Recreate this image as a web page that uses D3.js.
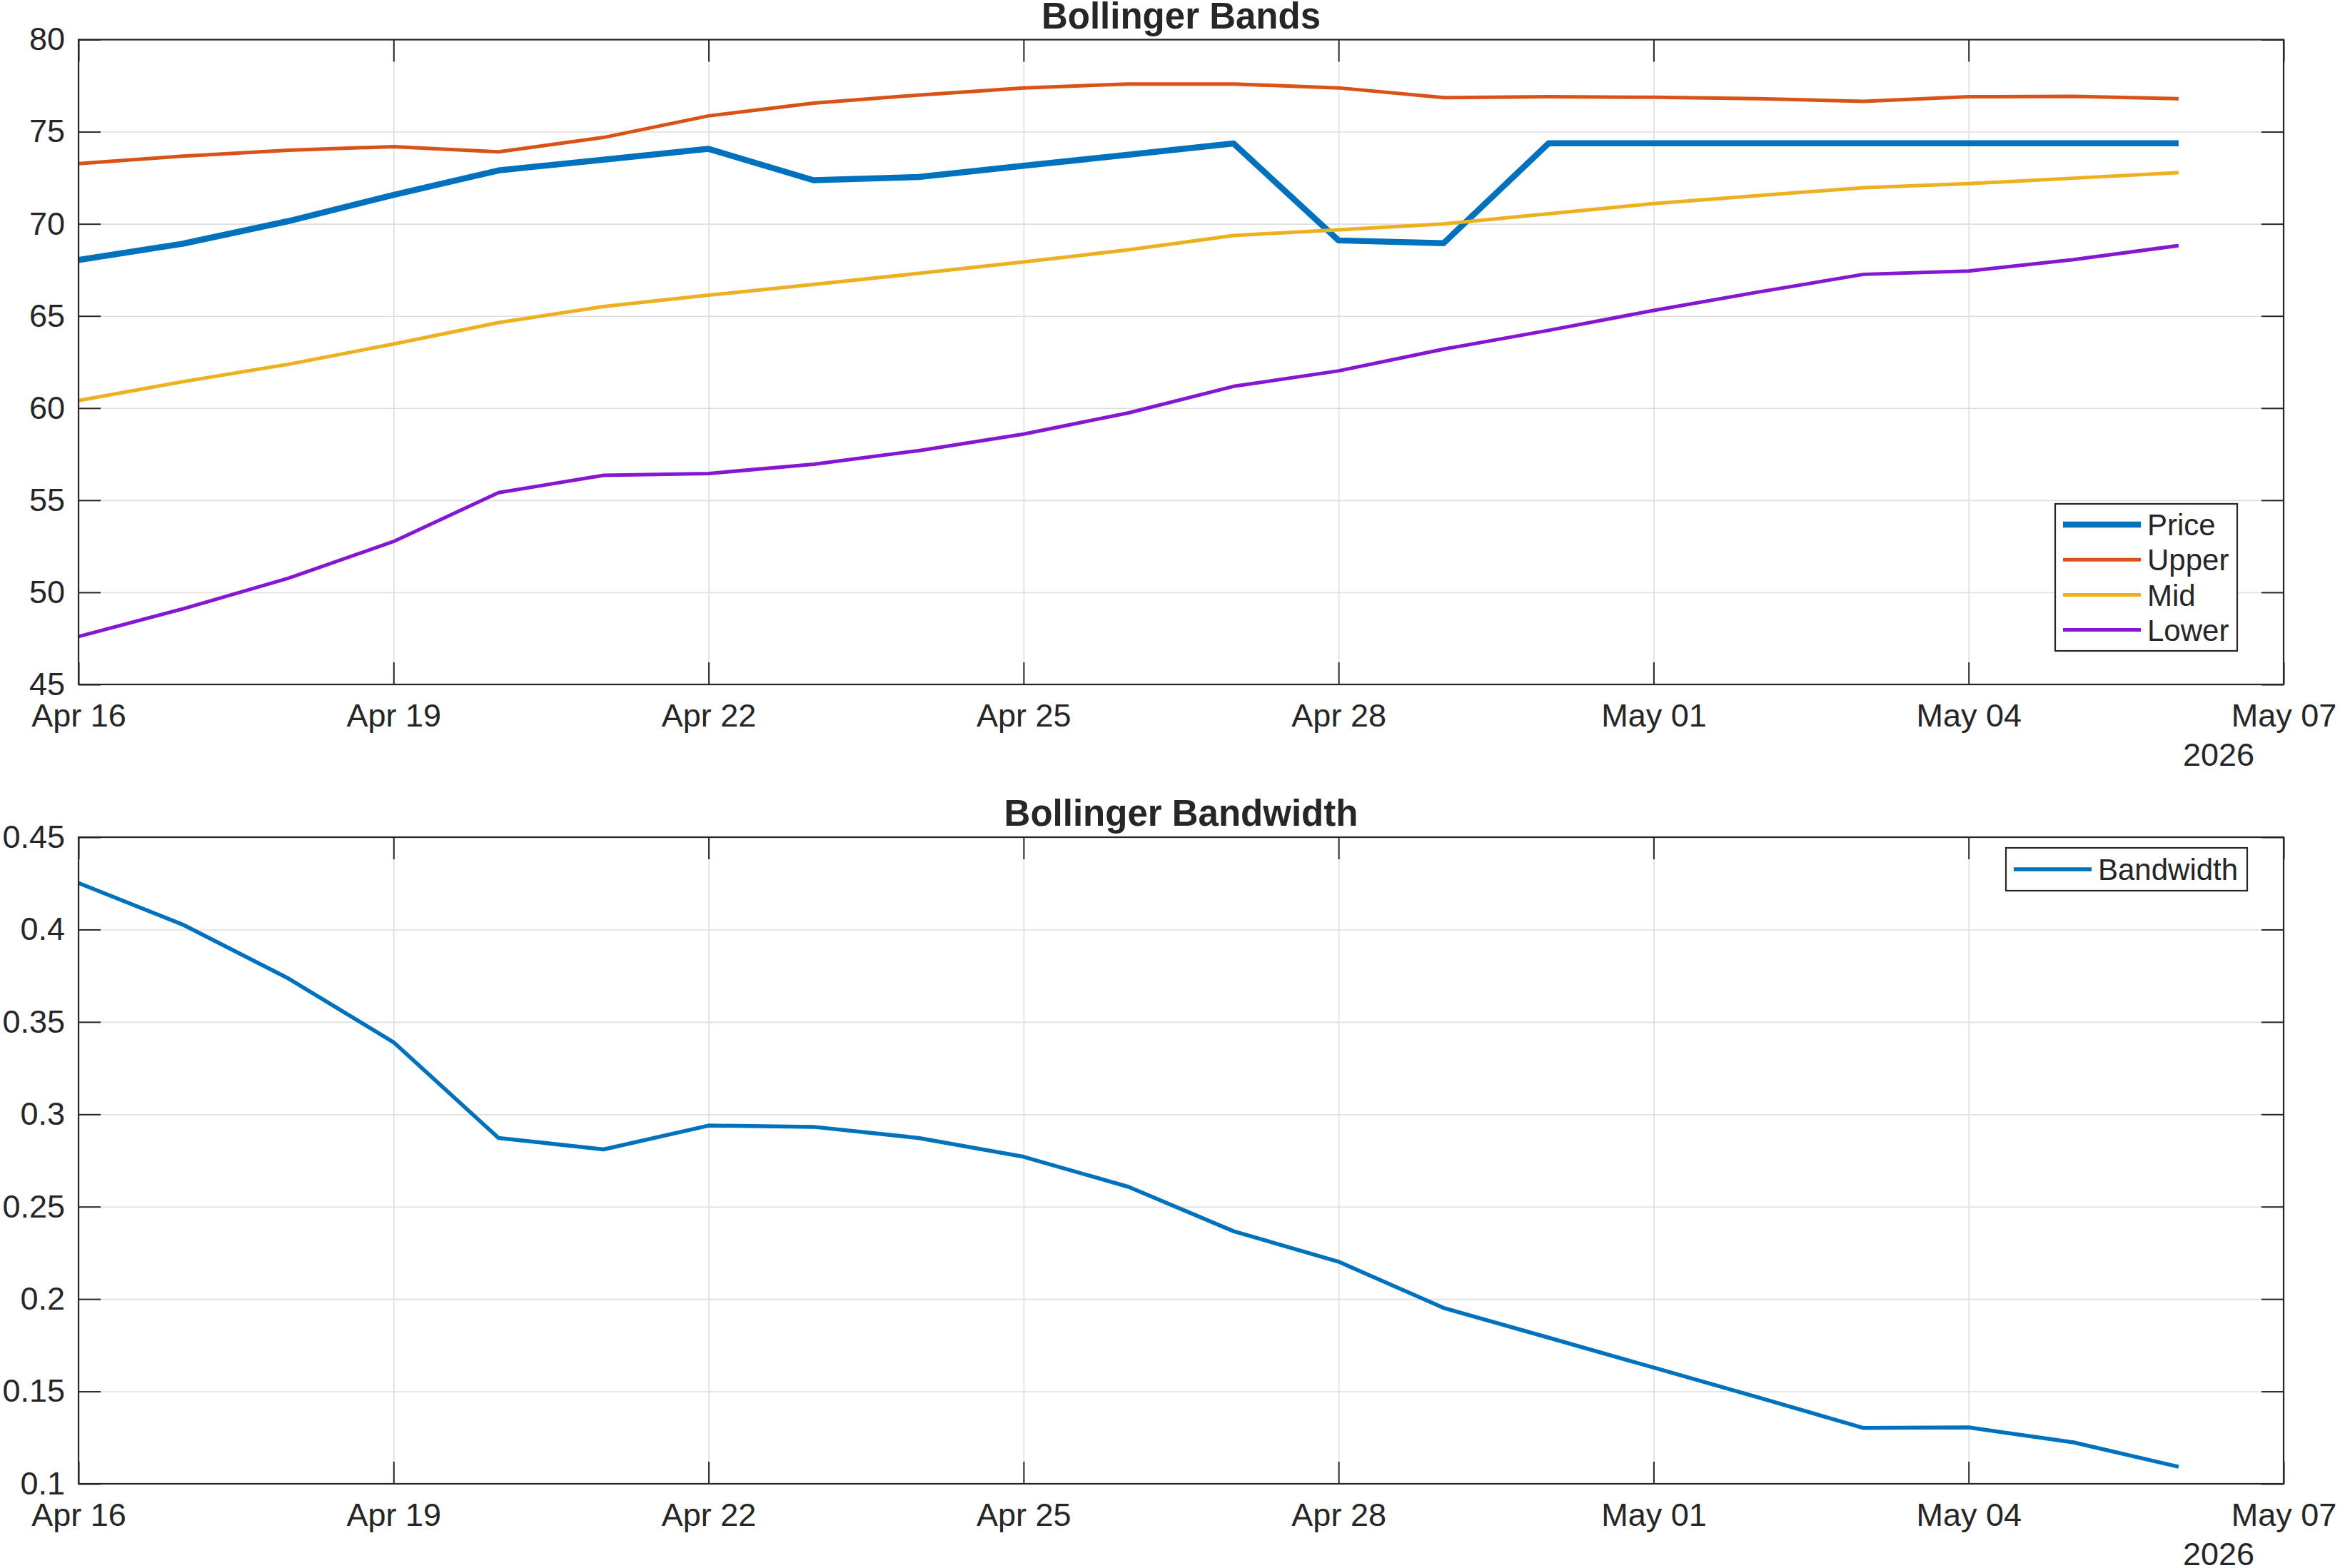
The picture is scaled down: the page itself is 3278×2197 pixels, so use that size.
<!DOCTYPE html>
<html>
<head>
<meta charset="utf-8">
<script src="https://cdn.jsdelivr.net/npm/d3@7"></script>
<style>
    html, body { margin: 0; padding: 0; background: #fff; }
    svg text { font-family: "Liberation Sans", Arial, Helvetica, sans-serif; fill: #262626; }
</style>
</head>
<body>
<div class="charts-div"></div>
<script>
// ---- data ----
const dates = [
    "2026-04-16", "2026-04-17", "2026-04-18", "2026-04-19", "2026-04-20", "2026-04-21", "2026-04-22",
    "2026-04-23", "2026-04-24", "2026-04-25", "2026-04-26", "2026-04-27", "2026-04-28", "2026-04-29",
    "2026-04-30", "2026-05-01", "2026-05-02", "2026-05-03", "2026-05-04", "2026-05-05", "2026-05-06"
];
const price = [68.04, 68.93, 70.15, 71.57, 72.9, 73.48, 74.07, 72.37, 72.54, 73.15, 73.75, 74.36, 69.1, 68.95,
    74.37, 74.37, 74.37, 74.37, 74.37, 74.37, 74.37];
const upper = [73.27, 73.68, 74.0, 74.19, 73.91, 74.69, 75.86, 76.55, 76.99, 77.38, 77.59, 77.59, 77.38, 76.85,
    76.9, 76.87, 76.79, 76.65, 76.9, 76.92, 76.79];
const mid = [60.41, 61.44, 62.38, 63.48, 64.64, 65.51, 66.13, 66.71, 67.31, 67.93, 68.59, 69.37, 69.68, 70.0,
    70.55, 71.1, 71.54, 71.96, 72.18, 72.48, 72.78];
const lower = [47.6, 49.11, 50.77, 52.76, 55.41, 56.35, 56.45, 56.95, 57.69, 58.59, 59.74, 61.18, 62.02, 63.2,
    64.22, 65.3, 66.3, 67.26, 67.44, 68.06, 68.82];
const bandwidth = [0.4252, 0.4025, 0.3735, 0.339, 0.2872, 0.281, 0.2939, 0.2932, 0.2872, 0.277, 0.2607, 0.2367,
    0.2202, 0.1952, 0.1791, 0.1629, 0.1467, 0.1302, 0.1305, 0.1224, 0.1092];

const xDomain = ["2026-04-16", "2026-05-07"];
const xTickDates = ["2026-04-16", "2026-04-19", "2026-04-22", "2026-04-25", "2026-04-28", "2026-05-01", "2026-05-04", "2026-05-07"];
const yearLabel = "2026";

const bandTicks = [45, 50, 55, 60, 65, 70, 75, 80];
const bwTicks = [0.1, 0.15, 0.2, 0.25, 0.3, 0.35, 0.4, 0.45];
const bwTickLabels = ["0.1", "0.15", "0.2", "0.25", "0.3", "0.35", "0.4", "0.45"];

// ---- config ----
const WIDTH = 3278;
const HEIGHT = 2197;
const X0 = 110;
const X1 = 3199;
const AXIS_COLOR = "#262626";
const GRID_COLOR = "#dedede";
const TICK_LEN = 31;
const FONT_SIZE = 45;

const parseDate = d3.utcParse("%Y-%m-%d");
const dateValues = dates.map(parseDate);
const xTicks = xTickDates.map(parseDate);

const x = d3.scaleUtc().domain(xDomain.map(parseDate)).range([X0, X1]);

const svg = d3.select(".charts-div").append("svg")
    .attr("width", WIDTH)
    .attr("height", HEIGHT)
    .attr("viewBox", [0, 0, WIDTH, HEIGHT]);

const styleAxis = (sel) => {
    sel.attr("font-size", null).attr("font-family", null);
    sel.select(".domain").remove();
    sel.selectAll(".tick line").attr("stroke", AXIS_COLOR).attr("stroke-width", 2);
    sel.selectAll(".tick text").attr("font-size", FONT_SIZE).attr("fill", AXIS_COLOR);
};

const drawPanel = (opts) => {
    const { top, bottom, yTicks, yFormat, title, series, legend } = opts;
    const y = d3.scaleLinear().domain([yTicks[0], yTicks[yTicks.length - 1]]).range([bottom, top]);
    const g = svg.append("g");

    // grid lines
    g.append("g")
        .attr("transform", `translate(0,${bottom})`)
        .call(d3.axisBottom(x).tickValues(xTicks).tickSize(-(bottom - top)).tickFormat(""))
        .call((s) => {
            s.select(".domain").remove();
            s.selectAll("line").attr("stroke", GRID_COLOR).attr("stroke-width", 1.6);
        });
    g.append("g")
        .attr("transform", `translate(${X0},0)`)
        .call(d3.axisLeft(y).tickValues(yTicks).tickSize(-(X1 - X0)).tickFormat(""))
        .call((s) => {
            s.select(".domain").remove();
            s.selectAll("line").attr("stroke", GRID_COLOR).attr("stroke-width", 1.6);
        });

    // series lines
    const line = d3.line()
        .x((d, i) => x(dateValues[i]))
        .y((d) => y(d));
    series.forEach((s) => {
        g.append("path")
            .datum(s.values)
            .attr("fill", "none")
            .attr("stroke", s.color)
            .attr("stroke-width", s.width)
            .attr("stroke-linejoin", "round")
            .attr("d", line);
    });

    // axes (ticks inward on all four sides)
    g.append("g")
        .attr("transform", `translate(0,${bottom})`)
        .call(d3.axisBottom(x).tickValues(xTicks).tickSizeInner(-TICK_LEN).tickSizeOuter(0).tickPadding(27)
            .tickFormat(d3.utcFormat("%b %d")))
        .call(styleAxis);
    g.append("g")
        .attr("transform", `translate(0,${top})`)
        .call(d3.axisTop(x).tickValues(xTicks).tickSizeInner(-TICK_LEN).tickSizeOuter(0).tickFormat(""))
        .call(styleAxis);
    g.append("g")
        .attr("transform", `translate(${X0},0)`)
        .call(d3.axisLeft(y).tickValues(yTicks).tickSizeInner(-TICK_LEN).tickSizeOuter(0).tickPadding(19)
            .tickFormat(yFormat))
        .call(styleAxis);
    g.append("g")
        .attr("transform", `translate(${X1},0)`)
        .call(d3.axisRight(y).tickValues(yTicks).tickSizeInner(-TICK_LEN).tickSizeOuter(0).tickFormat(""))
        .call(styleAxis);

    // box
    g.append("rect")
        .attr("x", X0).attr("y", top)
        .attr("width", X1 - X0).attr("height", bottom - top)
        .attr("fill", "none")
        .attr("stroke", AXIS_COLOR)
        .attr("stroke-width", 2.2);

    // title
    g.append("text")
        .attr("x", (X0 + X1) / 2)
        .attr("y", top - 16)
        .attr("text-anchor", "middle")
        .attr("font-size", 51)
        .attr("font-weight", "bold")
        .text(title);

    // year under the last tick
    g.append("text")
        .attr("x", 3158)
        .attr("y", bottom + 114)
        .attr("text-anchor", "end")
        .attr("font-size", FONT_SIZE)
        .text(yearLabel);

    // legend
    const lg = g.append("g").attr("transform", `translate(${legend.x},${legend.y})`);
    lg.append("rect")
        .attr("width", legend.w).attr("height", legend.h)
        .attr("fill", "#fff")
        .attr("stroke", AXIS_COLOR)
        .attr("stroke-width", 2.2);
    series.forEach((s, i) => {
        const cy = legend.firstRow + i * legend.rowStep;
        lg.append("line")
            .attr("x1", 11).attr("x2", 120)
            .attr("y1", cy).attr("y2", cy)
            .attr("stroke", s.color)
            .attr("stroke-width", s.width);
        lg.append("text")
            .attr("x", 129)
            .attr("y", cy)
            .attr("dy", "0.36em")
            .attr("font-size", 42)
            .text(s.name);
    });
};

drawPanel({
    top: 55.5,
    bottom: 959,
    yTicks: bandTicks,
    yFormat: d3.format("d"),
    title: "Bollinger Bands",
    series: [
        { name: "Price", values: price, color: "#0072BD", width: 8.5 },
        { name: "Upper", values: upper, color: "#D95319", width: 5 },
        { name: "Mid", values: mid, color: "#EDB120", width: 5 },
        { name: "Lower", values: lower, color: "#8516D1", width: 5 }
    ],
    legend: { x: 2879, y: 706, w: 255, h: 206, firstRow: 29, rowStep: 49.2 }
});

drawPanel({
    top: 1173,
    bottom: 2079,
    yTicks: bwTicks,
    yFormat: (d, i) => bwTickLabels[i],
    title: "Bollinger Bandwidth",
    series: [
        { name: "Bandwidth", values: bandwidth, color: "#0072BD", width: 5.5 }
    ],
    legend: { x: 2810, y: 1188, w: 338, h: 60, firstRow: 30, rowStep: 0 }
});
</script>
</body>
</html>
